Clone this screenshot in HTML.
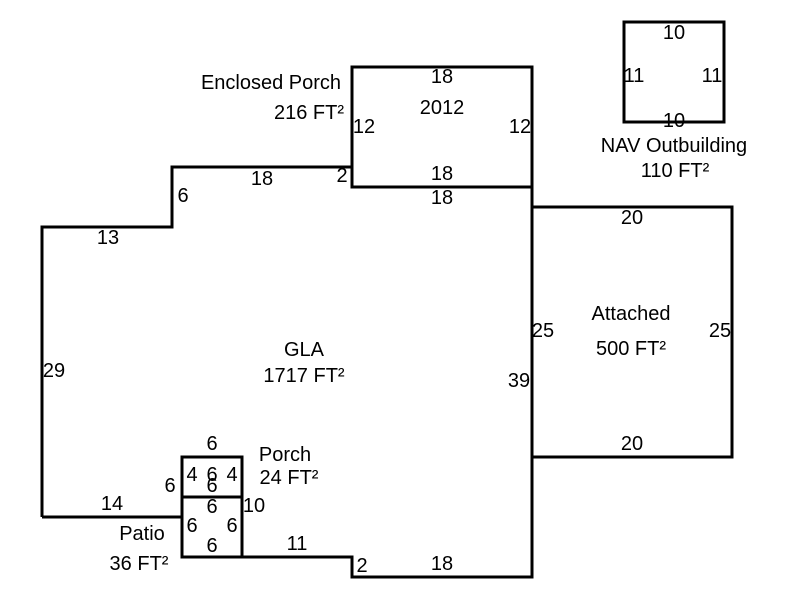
<!DOCTYPE html>
<html><head><style>body{margin:0;background:#fff}svg{display:block}</style></head><body>
<svg width="800" height="600" xmlns="http://www.w3.org/2000/svg" font-family="Liberation Sans, Arial, sans-serif" font-size="20" fill="#000">
<g fill="none" stroke="#000" stroke-width="3">
<polyline points="42,517 42,227 172,227 172,167 352,167 352,187 532,187 532,577 352,577 352,557 242,557"/>
<line x1="42" y1="517" x2="182" y2="517"/>
<rect x="352" y="67" width="180" height="120"/>
<rect x="532" y="207" width="200" height="250"/>
<rect x="624" y="22" width="100" height="100"/>
<rect x="182" y="457" width="60" height="40"/>
<rect x="182" y="497" width="60" height="60"/>
</g>
<g text-anchor="middle">
<text x="271" y="89">Enclosed Porch</text>
<text x="309" y="119">216 FT²</text>
<text x="442" y="83">18</text>
<text x="442" y="114">2012</text>
<text x="364" y="133">12</text>
<text x="520" y="133">12</text>
<text x="442" y="180">18</text>
<text x="442" y="204">18</text>
<text x="342" y="182">2</text>
<text x="262" y="185">18</text>
<text x="183" y="202">6</text>
<text x="108" y="244">13</text>
<text x="54" y="377">29</text>
<text x="304" y="356">GLA</text>
<text x="304" y="382">1717 FT²</text>
<text x="519" y="387">39</text>
<text x="543" y="337">25</text>
<text x="632" y="224">20</text>
<text x="631" y="320">Attached</text>
<text x="631" y="355">500 FT²</text>
<text x="720" y="337">25</text>
<text x="632" y="450">20</text>
<text x="674" y="39">10</text>
<text x="634" y="82">11</text>
<text x="712" y="82">11</text>
<text x="674" y="127">10</text>
<text x="674" y="152">NAV Outbuilding</text>
<text x="675" y="177">110 FT²</text>
<text x="212" y="450">6</text>
<text x="285" y="461">Porch</text>
<text x="289" y="484">24 FT²</text>
<text x="170" y="492">6</text>
<text x="192" y="481">4</text>
<text x="212" y="481">6</text>
<text x="232" y="481">4</text>
<text x="212" y="492">6</text>
<text x="212" y="513">6</text>
<text x="254" y="512">10</text>
<text x="192" y="532">6</text>
<text x="232" y="532">6</text>
<text x="212" y="552">6</text>
<text x="112" y="510">14</text>
<text x="142" y="540">Patio</text>
<text x="139" y="570">36 FT²</text>
<text x="297" y="550">11</text>
<text x="362" y="572">2</text>
<text x="442" y="570">18</text>
</g>
</svg>
</body></html>
